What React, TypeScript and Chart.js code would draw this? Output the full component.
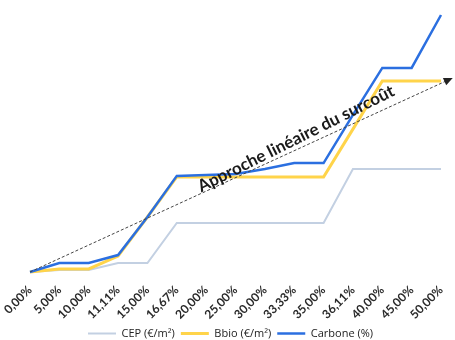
import React, { useEffect, useRef } from "react";
import { Chart, registerables } from "chart.js";

Chart.register(...registerables);

const categories = [
  "0,00%", "5,00%", "10,00%", "11,11%", "15,00%", "16,67%", "20,00%", "25,00%",
  "30,00%", "33,33%", "35,00%", "36,11%", "40,00%", "45,00%", "50,00%",
];
const cepValues = [0, 0.8, 0.8, 3.5, 3.5, 19.1, 19.1, 19.1, 19.1, 19.1, 19.1, 40.1, 40.1, 40.1, 40.1];
const bbioValues = [0, 1.2, 1.2, 6.2, 21.4, 37.0, 37.0, 37.0, 37.0, 37.0, 37.0, 55.6, 74.3, 74.3, 74.3];
const carboneValues = [0, 3.5, 3.5, 6.6, 21.4, 37.4, 37.7, 38.1, 40.1, 42.4, 42.4, 61.1, 79.4, 79.4, 100];
const seriesLabels = ["CEP (€/m²)", "Bbio (€/m²)", "Carbone (%)"];
const arrowLabel = "Approche linéaire du surcoût";
const arrowStart = { index: 0, value: 0 };
const arrowEnd = { index: 14.4, value: 75.5 };

const FONT = "Lato, 'Open Sans', sans-serif";

const arrowPlugin = {
  id: "arrowPlugin",
  afterDatasetsDraw(chart: any) {
    const { ctx, scales } = chart;
    const x = scales.x;
    const y = scales.y;
    const x0 = x.getPixelForValue(arrowStart.index);
    const y0 = y.getPixelForValue(arrowStart.value);
    const x1 = x.getPixelForValue(arrowEnd.index);
    const y1 = y.getPixelForValue(arrowEnd.value);
    const ang = Math.atan2(y1 - y0, x1 - x0);
    ctx.save();
    ctx.strokeStyle = "#444";
    ctx.lineWidth = 1;
    ctx.setLineDash([3, 2]);
    ctx.beginPath();
    ctx.moveTo(x0, y0);
    ctx.lineTo(x1 - 8 * Math.cos(ang), y1 - 8 * Math.sin(ang));
    ctx.stroke();
    ctx.setLineDash([]);
    ctx.fillStyle = "#222";
    ctx.beginPath();
    ctx.moveTo(x1, y1);
    ctx.lineTo(x1 - 9 * Math.cos(ang) + 4 * Math.sin(ang), y1 - 9 * Math.sin(ang) - 4 * Math.cos(ang));
    ctx.lineTo(x1 - 9 * Math.cos(ang) - 4 * Math.sin(ang), y1 - 9 * Math.sin(ang) + 4 * Math.cos(ang));
    ctx.closePath();
    ctx.fill();
    const t = 0.635;
    const tx = x0 + (x1 - x0) * t;
    const ty = y0 + (y1 - y0) * t;
    ctx.translate(tx, ty - 5);
    ctx.rotate(ang - 0.035);
    ctx.font = `bold 17px ${FONT}`;
    ctx.fillStyle = "#1a1a1a";
    ctx.textAlign = "center";
    ctx.textBaseline = "alphabetic";
    ctx.fillText(arrowLabel, 0, 0);
    ctx.restore();
  },
};

export default function App() {
  const ref = useRef<HTMLCanvasElement | null>(null);
  useEffect(() => {
    if (!ref.current) return;
    const chart = new Chart(ref.current, {
      type: "line",
      data: {
        labels: categories,
        datasets: [
          {
            label: seriesLabels[0],
            data: cepValues,
            borderColor: "#c3d0e2",
            backgroundColor: "#c3d0e2",
            borderWidth: 2,
            pointRadius: 0,
            tension: 0,
            order: 3,
            clip: false,
          },
          {
            label: seriesLabels[1],
            data: bbioValues,
            borderColor: "#ffd44a",
            backgroundColor: "#ffd44a",
            borderWidth: 3,
            pointRadius: 0,
            tension: 0,
            order: 2,
            clip: false,
          },
          {
            label: seriesLabels[2],
            data: carboneValues,
            borderColor: "#2b6fe0",
            backgroundColor: "#2b6fe0",
            borderWidth: 2.5,
            pointRadius: 0,
            tension: 0,
            order: 1,
            clip: false,
          },
        ],
      },
      options: {
        animation: false,
        responsive: false,
        maintainAspectRatio: false,
        layout: { padding: { left: 20, right: 14, top: 15, bottom: 0 } },
        scales: {
          x: {
            grid: { display: false, drawTicks: false },
            border: { display: false },
            ticks: {
              autoSkip: false,
              maxRotation: 45,
              minRotation: 45,
              padding: 11,
              color: "#2a2a2a",
              font: { family: FONT, size: 12, weight: "bold" },
            },
            afterFit: (scale: any) => {
              scale.height = 50;
              scale.paddingLeft = 30;
              scale.paddingRight = 0;
            },
          },
          y: {
            display: false,
            min: 0,
            max: 100,
          },
        },
        plugins: {
          tooltip: { enabled: false },
          legend: {
            position: "bottom",
            labels: {
              usePointStyle: true,
              pointStyle: "line",
              pointStyleWidth: 28,
              boxHeight: 10,
              padding: 6,
              color: "#222",
              font: { family: "'Open Sans', sans-serif", size: 11 },
              sort: (a: any, b: any) => a.datasetIndex - b.datasetIndex,
            },
          },
        },
      },
      plugins: [arrowPlugin],
    });
    return () => chart.destroy();
  }, []);
  return (
    <div style={{ position: "fixed", left: 0, top: 0, width: 455, height: 340, overflow: "hidden", background: "#fff" }}>
      <canvas ref={ref} width={455} height={349} style={{ width: 455, height: 349, display: "block" }} />
    </div>
  );
}
